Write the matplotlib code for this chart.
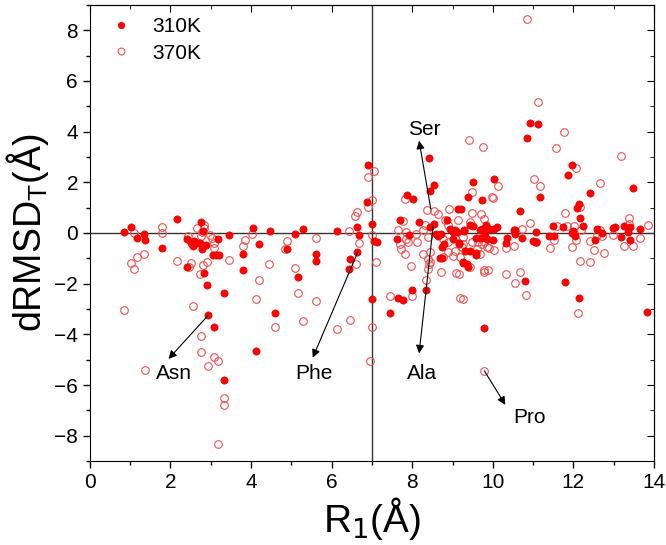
import matplotlib
matplotlib.use("Agg")
import matplotlib.pyplot as plt

plt.rcParams["font.family"] = ["Liberation Sans", "DejaVu Sans"]

# 310K (filled)
x_310 = [0.85, 1.01, 1.16, 1.34, 1.36, 1.78, 2.15, 2.41, 2.50, 2.58, 2.65, 2.72, 2.55, 2.75,
         2.81, 2.87, 2.77, 3.18, 3.45, 3.05, 3.12, 3.20, 2.41, 2.82, 2.90, 3.33, 2.94, 3.09,
         3.33, 3.81, 3.81, 4.04, 4.19, 4.46, 4.12, 4.59,
         6.91, 6.88, 7.01, 6.63, 6.67, 6.12, 5.29, 5.09, 4.90, 5.62, 5.61, 5.17, 6.62, 6.45,
         6.43, 7.05, 7.13, 6.99, 7.44, 7.65, 7.77, 8.00, 8.33,
         8.55, 8.45, 7.87, 8.02, 9.52, 9.38, 9.73, 9.20, 7.69, 8.16, 8.54, 8.44, 8.85, 7.91,
         7.61, 8.60, 8.65, 8.72, 8.94, 9.02, 9.10, 9.28, 9.43, 9.52, 9.73, 9.83, 9.91, 8.79,
         8.75, 9.02, 9.16, 9.43, 9.58, 8.73, 9.27, 9.35, 9.70, 9.85, 8.41, 9.14, 8.68,
         10.92, 11.13, 10.86, 11.97, 11.87, 10.02, 11.18, 12.42, 13.47, 10.68, 12.14, 12.09,
         12.16, 9.06, 9.29, 9.69, 9.81, 9.90, 10.02, 10.11, 10.55, 11.07, 11.49, 11.74, 11.99,
         12.23, 13.02, 13.26, 13.40, 13.65, 9.15, 9.31, 9.27, 9.38, 9.59, 9.58, 9.81, 10.00,
         10.36, 10.32, 10.73, 10.99, 11.40, 11.53, 12.03, 12.53, 13.19, 13.40, 10.80, 11.78,
         12.14, 9.79, 13.83, 10.53, 10.56, 11.06, 11.97, 12.59, 12.72, 12.99, 13.36]
y_310 = [0.04, 0.24, -0.20, -0.04, -0.28, -0.61, 0.56, -0.25, -0.40, -0.33, -0.40, -0.40, -0.50, 0.44,
         0.08, -0.47, -0.62, -0.24, -0.08, -0.88, -0.87, -0.85, -1.35, -1.59, -2.05, -2.37, -3.24, -3.69,
         -5.82, -0.82, -1.48, 0.21, -0.42, 0.08, -4.64, -3.17,
         2.69, 1.23, 0.37, 0.24, -0.09, 0.08, 0.17, -0.03, -0.62, -0.82, -1.12, -1.75, -0.75, -1.04,
         -1.42, -0.30, -0.36, -2.60, -3.16, -2.58, -2.65, -2.25, -2.25,
         1.89, 1.67, 1.50, 1.36, 2.02, 1.42, 1.30, 0.94, 0.53, 0.44, 0.37, 0.24, 0.50, -0.09,
         -0.23, -0.05, -0.12, -0.05, 0.17, 0.04, 0.03, 0.11, 0.31, 0.28, 0.17, 0.31, 0.17, -0.42,
         -0.56, -0.23, -0.38, -0.73, -0.79, -0.99, -1.15, -1.22, -0.20, -0.25, 2.95, 0.94, -1.00,
         4.35, 4.30, 3.75, 2.69, 2.30, 2.13, 1.42, 1.57, 1.76, 0.87, 1.16, 1.00,
         0.61, 0.13, 0.08, 0.13, 0.16, 0.17, 0.15, 0.23, 0.11, 0.05, 0.29, 0.24, 0.09,
         0.29, 0.23, 0.27, 0.24, 0.16, -0.43, -0.73, -1.20, -1.33, -0.85, -0.20, -0.13, -0.29,
         -0.20, -0.40, -0.20, -0.32, -0.13, -0.13, -0.13, -0.27, -0.16, -0.27, -1.89, -1.93,
         -2.57, -3.73, -3.13, 0.10, -0.05, -0.37, 0.00, 0.16, 0.00, 0.20, 0.03]

# 370K (open)
x_370 = [0.85, 1.01, 1.10, 1.16, 1.34, 1.10, 1.36, 1.78, 1.78, 2.15, 2.44, 2.52, 2.46, 2.55,
         2.65, 2.84, 2.84, 2.76, 2.78, 2.97, 3.02, 3.07, 3.07, 2.90, 2.73, 2.81, 2.75, 2.75,
         2.94, 3.09, 3.17, 3.32, 3.33, 3.18, 3.45, 3.85, 3.81, 4.03, 4.12, 4.19, 4.45, 4.59, 4.84,
         7.05, 6.90, 6.99, 6.90, 6.62, 6.58, 6.43, 6.67, 6.60, 7.11, 6.99, 4.90, 5.60, 5.09,
         5.17, 5.62, 5.29, 6.12, 6.45, 6.99, 6.96, 7.44, 8.00, 7.98, 8.33, 8.39, 8.41, 8.72,
         9.08, 7.82, 7.77, 8.37, 8.54, 8.64, 8.81, 8.90, 9.18,
         9.48, 9.98, 9.48, 9.71, 9.77, 8.31, 8.89, 9.43, 9.14, 7.65, 7.85, 8.10, 8.27, 8.40,
         7.85, 7.69, 7.90, 8.13, 8.77, 8.89, 9.27, 9.27, 9.48, 9.73, 9.85, 9.23, 8.89, 9.02,
         8.77, 9.60, 9.68, 8.44, 8.27, 7.73, 7.81, 8.44, 8.40, 9.89, 9.43,
         10.86, 11.13, 9.41, 9.75, 11.77, 11.56, 12.07, 13.19, 11.01, 11.18, 12.66, 10.12, 10.00,
         12.16, 11.79, 10.92, 13.39, 11.60, 11.85, 12.01, 13.86, 13.39, 10.73,
         9.05, 9.05, 9.19, 9.62, 9.77, 9.90, 10.02, 10.32, 10.53, 11.07, 11.41, 11.53, 11.97,
         12.06, 12.41, 12.51, 12.75, 13.25, 13.47, 13.64, 9.15, 9.77, 10.32, 10.54, 10.68, 9.27,
         10.82, 12.16, 12.41, 12.20, 12.65, 12.99, 12.72, 12.59, 12.11, 9.79, 9.78]
y_370 = [-3.04, -1.18, -1.43, -0.94, -0.81, -0.01, -5.42, 0.22, 0.01, -1.11, -0.12, -1.18, -1.35, -2.87,
         0.20, 0.33, 0.20, -0.10, 0.05, -0.06, -0.20, -0.40, -0.60, -1.15, -1.63, -1.28, -4.08, -4.71,
         -5.23, -4.90, -5.04, -6.50, -6.80, -8.32, -1.06, -0.28, -0.52, -0.05, -2.59, -1.87, -1.22, -3.70, -0.62,
         2.46, 2.19, 1.32, 1.03, 0.83, 0.66, 0.09, -0.38, -1.23, -1.15, -0.09, -0.30, -0.20, -1.39,
         -2.37, -2.67, -3.46, -3.80, -3.43, -3.69, -5.05, -2.47, -2.50, -1.31, -1.84, -1.03, -1.22, -1.55,
         -1.57, 1.36, 0.46, 0.90, 0.86, 0.73, 0.50, 0.96, -2.57,
         1.63, 1.43, 0.77, 0.73, 0.57, 0.30, 0.30, 0.44, 0.50, 0.11, 0.04, -0.03, 0.11, -0.16,
         -0.22, -0.42, -0.36, -0.36, -0.22, -0.36, -0.16, -0.42, -0.36, -0.42, -0.56, -0.56, -0.75, -0.89,
         -0.95, -0.62, -0.82, -0.75, -0.82, -0.62, -0.82, -1.15, -1.42, -1.48, -1.35,
         8.46, 5.15, 3.67, 3.38, 3.99, 3.36, 2.58, 3.02, 2.12, 1.84, 1.96, 1.84, 1.40,
         1.03, 0.80, 0.39, 0.60, 0.29, 0.29, 0.29, 0.31, 0.36, 0.16,
         -0.20, -0.73, -0.96, -0.37, -0.37, -0.60, -0.69, -0.60, -0.51, -0.37, -0.60, -0.29, -0.56,
         -0.29, -0.32, -0.68, -0.77, -0.51, -0.51, -0.19, -1.62, -1.53, -1.62, -1.97, -1.52, -2.62,
         -2.46, -1.09, -1.13, 0.13, 0.10, -0.07, -0.10, -0.07, -3.17, -5.44, -1.45]

# residue labels: name, text position, arrow tail (point), arrow head
labels = ["Asn", "Phe", "Ala", "Pro", "Ser"]
label_xy = [(2.08, -5.55), (5.57, -5.55), (8.23, -5.55), (10.9, -7.3), (8.31, 4.07)]
tail_xy = [(2.94, -3.24), (6.65, -0.75), (8.52, 0.30), (9.79, -5.44), (8.46, 0.95)]
head_xy = [(1.95, -4.97), (5.53, -4.92), (8.17, -4.75), (10.31, -6.78), (8.17, 3.64)]

fig = plt.figure(figsize=(6.66, 5.45), dpi=100)
ax = fig.add_axes([0.135, 0.154, 0.847, 0.837])

ax.axhline(0, color="#333333", lw=1.0, zorder=1)
ax.axvline(7, color="#333333", lw=1.0, zorder=1)

ax.plot(x_310, y_310, "o", color="#ff0000", ms=5.2, mec="#ee0000", mew=0.5,
        ls="none", label="310K", zorder=3)
ax.plot(x_370, y_370, "o", mfc="none", mec="#f05050", ms=5.5, mew=0.8,
        ls="none", label="370K", zorder=2)

for name, txy, t, h in zip(labels, label_xy, tail_xy, head_xy):
    ax.annotate("", xy=h, xytext=t,
                arrowprops=dict(arrowstyle="-|>", color="black", lw=0.8,
                                mutation_scale=12, shrinkA=0, shrinkB=0))
    ax.text(txy[0], txy[1], name, ha="center", va="center", fontsize=15)

ax.set_xlim(0, 14)
ax.set_ylim(-9, 9)
ax.set_xticks(range(0, 15, 2))
ax.set_xticks(range(0, 15), minor=True)
ax.set_yticks(range(-8, 9, 2))
ax.set_yticks(range(-9, 10), minor=True)
ax.tick_params(labelsize=15, width=1, length=5, direction="out")
ax.tick_params(which="minor", width=1, length=3, direction="out")

# mirrored ticks on top/right point inwards
top = ax.secondary_xaxis("top")
top.set_xticks(range(0, 15, 2))
top.set_xticks(range(0, 15), minor=True)
top.tick_params(direction="in", length=5, labeltop=False)
top.tick_params(which="minor", direction="in", length=3)
right = ax.secondary_yaxis("right")
right.set_yticks(range(-8, 9, 2))
right.set_yticks(range(-9, 10), minor=True)
right.tick_params(direction="in", length=5, labelright=False)
right.tick_params(which="minor", direction="in", length=3)

ax.set_xlabel("R$_1$(Å)", fontsize=28, labelpad=2)
ax.set_ylabel("dRMSD$_\\mathregular{T}$(Å)", fontsize=27, labelpad=2)

ax.legend(loc="upper left", frameon=False, fontsize=15, handletextpad=0.5,
          borderaxespad=0.2, bbox_to_anchor=(-0.004, 1.0), markerscale=0.9,
          labelspacing=0.35)

fig.savefig("out.png", dpi=100)
